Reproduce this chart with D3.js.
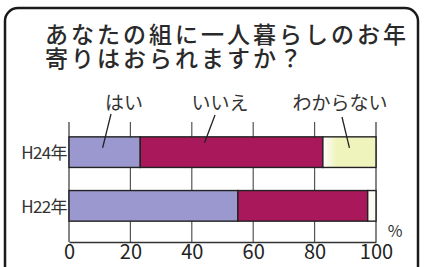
<!DOCTYPE html>
<html>
  <head>
    <meta charset="utf-8" />
    <title>一人暮らしのお年寄り</title>
    <style>
      html, body {
        margin: 0;
        padding: 0;
        background: white;
      }
      text {
        font-family: "Noto Sans CJK JP", "Noto Sans", sans-serif;
        fill: #222;
      }
    </style>
  </head>
  <body>
    <script src="https://d3js.org/d3.v7.min.js"></script>
    <script>
      var w = 424;
      var h = 267;

      // data
      var years = ["H24年", "H22年"];
      var answers = ["はい", "いいえ", "わからない"];
      var hai = [23.2, 55.0];
      var iie = [59.5, 42.3];
      var wakaranai = [17.3, 2.7];
      var ticks = [0, 20, 40, 60, 80, 100];
      var titleLines = ["あなたの組に一人暮らしのお年", "寄りはおられますか？"];

      var colors = ["#9a98cf", "#a9185b", "#eff4bd"];

      var svg = d3.select("body")
        .append("svg")
        .attr("width", w)
        .attr("height", h);

      var defs = svg.append("defs");
      var grad = defs.append("linearGradient")
        .attr("id", "yellowGrad");
      grad.append("stop").attr("offset", "0%").attr("stop-color", "#ffffff");
      grad.append("stop").attr("offset", "25%").attr("stop-color", colors[2]);
      grad.append("stop").attr("offset", "100%").attr("stop-color", colors[2]);

      // frame
      svg.append("rect")
        .attr("x", 5)
        .attr("y", 8)
        .attr("width", 413)
        .attr("height", 275)
        .attr("rx", 13)
        .attr("fill", "white")
        .attr("stroke", "#1a1a1a")
        .attr("stroke-width", 2.5);

      // title
      svg.selectAll(".title")
        .data(titleLines)
        .enter()
        .append("text")
        .attr("class", "title")
        .attr("x", 45)
        .attr("y", function(d, i) { return 43 + i * 24; })
        .style("font-size", "23px")
        .style("letter-spacing", "3px")
        .style("font-weight", "500")
        .style("fill", "#2a2a2a")
        .text(function(d) { return d; });

      var x = d3.scaleLinear()
        .domain([0, 100])
        .range([69, 376]);

      var y = d3.scaleBand()
        .domain(years)
        .range([110, 248])
        .paddingInner(0.43)
        .paddingOuter(0.5);

      var gridTop = 122;
      var gridBottom = 242;

      // grid lines
      svg.selectAll(".grid")
        .data(ticks)
        .enter()
        .append("line")
        .attr("class", "grid")
        .attr("x1", function(d) { return x(d); })
        .attr("x2", function(d) { return x(d); })
        .attr("y1", gridTop)
        .attr("y2", gridBottom)
        .attr("stroke", function(d) { return (d === 0 || d === 100) ? "#333" : "#555"; })
        .attr("stroke-width", 1.2);

      // bottom axis
      var xAxis = d3.axisBottom(x)
        .tickValues(ticks)
        .tickSize(0)
        .tickPadding(3);

      var ax = svg.append("g")
        .attr("transform", "translate(0," + gridBottom + ")")
        .call(xAxis);
      ax.select(".domain").attr("stroke", "#333").attr("stroke-width", 1.5);
      ax.selectAll("text")
        .style("font-family", "'Noto Sans CJK JP', sans-serif")
        .style("font-size", "20px")
        .attr("fill", "#333");

      svg.append("text")
        .attr("x", 395)
        .attr("y", 237)
        .attr("text-anchor", "middle")
        .style("font-size", "16px")
        .style("fill", "#333")
        .text("%");

      // stacked segments
      var stackData = years.map(function(yr, i) {
        return { year: yr, "はい": hai[i], "いいえ": iie[i], "わからない": wakaranai[i] };
      });
      var series = d3.stack().keys(answers)(stackData);

      series.forEach(function(s, k) {
        svg.selectAll(".seg" + k)
          .data(s)
          .enter()
          .append("rect")
          .attr("class", "seg" + k)
          .attr("x", function(d) { return x(d[0]); })
          .attr("y", function(d) { return y(d.data.year); })
          .attr("width", function(d) { return x(d[1]) - x(d[0]); })
          .attr("height", y.bandwidth())
          .attr("fill", function(d) {
            if (k === 2) return d.data.year === "H24年" ? "url(#yellowGrad)" : "#fbfbf4";
            return colors[k];
          })
          .attr("stroke", "#222")
          .attr("stroke-width", 1.4);
      });

      // category labels
      svg.selectAll(".cat")
        .data(years)
        .enter()
        .append("text")
        .attr("class", "cat")
        .attr("x", 67)
        .attr("y", function(d) { return y(d) + y.bandwidth() / 2 + 7; })
        .attr("text-anchor", "end")
        .style("font-size", "17px")
        .style("letter-spacing", "-0.6px")
        .style("fill", "#333")
        .text(function(d) { return d; });

      // answer labels with leader lines, pointing into the H24 bar
      var firstRow = series.map(function(s) { return s[0]; });
      var labelX = [124, 220, 340];
      var lineStart = [[111, 114], [215, 115], [342, 117]];
      var lineShift = [-2, -27, 0];

      svg.selectAll(".lbl")
        .data(answers)
        .enter()
        .append("text")
        .attr("class", "lbl")
        .attr("x", function(d, i) { return labelX[i]; })
        .attr("y", 110)
        .attr("text-anchor", "middle")
        .style("font-size", "19px")
        .style("fill", "#333")
        .text(function(d) { return d; });

      svg.selectAll(".leader")
        .data(firstRow)
        .enter()
        .append("line")
        .attr("class", "leader")
        .attr("x1", function(d, i) { return lineStart[i][0]; })
        .attr("y1", function(d, i) { return lineStart[i][1]; })
        .attr("x2", function(d, i) { return x((d[0] + d[1]) / 2) + lineShift[i]; })
        .attr("y2", function(d, i) { return y(d.data.year) + (i === 1 ? 6 : 11); })
        .attr("stroke", "#222")
        .attr("stroke-width", 1.3);
    </script>
  </body>
</html>
